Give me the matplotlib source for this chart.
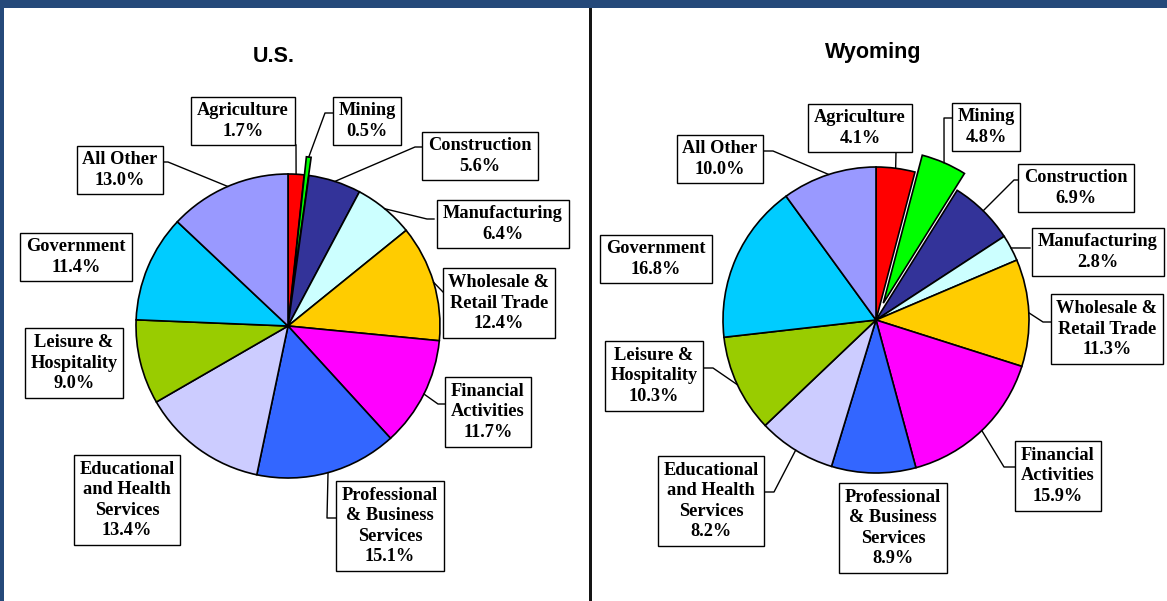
import numpy as np
import matplotlib.pyplot as plt
from matplotlib.patches import Rectangle

# --- Datos: participación del empleo por sector (%) ---
sectors = ['Agriculture', 'Mining', 'Construction', 'Manufacturing',
           'Wholesale &\nRetail Trade', 'Financial\nActivities',
           'Professional\n& Business\nServices', 'Educational\nand Health\nServices',
           'Leisure &\nHospitality', 'Government', 'All Other']
us_share = [1.7, 0.5, 5.6, 6.4, 12.4, 11.7, 15.1, 13.4, 9.0, 11.4, 13.0]
wy_share = [4.1, 4.8, 6.9, 2.8, 11.3, 15.9, 8.9, 8.2, 10.3, 16.8, 10.0]
colors = ['#FF0000', '#00FF00', '#333399', '#CCFFFF', '#FFCC00', '#FF00FF',
          '#3366FF', '#CCCCFF', '#99CC00', '#00CCFF', '#9999FF']
explode_frac = [0, 0.12, 0, 0, 0, 0, 0, 0, 0, 0, 0]  # fracción del radio

W, H = 1167, 601
BLUE = '#25497A'

# --- Layout en pixeles (y hacia abajo) ---
us_layout = dict(
    title='U.S.', title_xy=(274, 62), center=(288, 326), radius=152,
    labels=[(243, 121), (367, 121), (480, 156), (503, 224), (499, 303), (488, 412),
            (390, 526), (127, 500), (74, 363), (76, 257), (120, 170)],
    leaders={0: [(296, 145)], 1: [(325, 113), (333, 113)], 2: [(415, 147), (423, 147)],
             3: [(427, 219), (434, 219)], 4: [(443, 292)], 5: [(438, 404), (445, 404)],
             6: [(327, 518), (336, 518)], 10: [(168, 162), (163, 162)]},
)
wy_layout = dict(
    title='Wyoming', title_xy=(873, 58), center=(876, 320), radius=153,
    labels=[(860, 128), (986, 127), (1076, 188), (1098, 252), (1107, 329), (1058, 476),
            (893, 528), (711, 501), (654, 376), (656, 259), (720, 159)],
    leaders={0: [(896, 152)], 1: [(944, 118), (952, 118)], 2: [(1014, 180), (1022, 180)],
             3: [(1030, 248)], 4: [(1043, 322), (1051, 322)], 5: [(1004, 467), (1015, 467)],
             7: [(774, 492), (765, 492)], 8: [(713, 368), (704, 368)],
             10: [(773, 151), (764, 151)]},
)


def draw_pie(ax, values, layout):
    cx, cy = layout['center']
    r = layout['radius']
    # explode de matplotlib va en unidades de datos, no en fracción del radio
    wedges, _ = ax.pie(values, colors=colors, explode=[e * r for e in explode_frac],
                       startangle=90, counterclock=False, radius=r,
                       center=(cx, H - cy), frame=True,
                       wedgeprops=dict(edgecolor='black', linewidth=1.2))

    tx, ty = layout['title_xy']
    ax.text(tx, H - ty, layout['title'], ha='center', va='baseline',
            fontsize=15.5, fontweight='bold', family='Liberation Sans')

    for i, (name, val) in enumerate(zip(sectors, values)):
        lx, ly = layout['labels'][i]
        ax.text(lx, H - ly, f'{name}\n{val:.1f}%', ha='center', va='center',
                fontsize=13.2, fontweight='bold', family='Liberation Serif',
                linespacing=1.25, zorder=5,
                bbox=dict(boxstyle='square,pad=0.32', fc='white', ec='black', lw=1.0))

        if i in layout['leaders']:
            w = wedges[i]
            mid = np.deg2rad((w.theta1 + w.theta2) / 2)
            px = w.center[0] + w.r * np.cos(mid)
            py = w.center[1] + w.r * np.sin(mid)
            pts = [(px, py)] + [(x, H - y) for x, y in layout['leaders'][i]]
            xs, ys = zip(*pts)
            ax.plot(xs, ys, color='black', lw=1.0, zorder=4)


fig = plt.figure(figsize=(W / 100, H / 100), dpi=100, facecolor=BLUE)
ax = fig.add_axes([0, 0, 1, 1])

# paneles blancos y divisor
ax.add_patch(Rectangle((4, 0), 585, H - 8, fc='white', ec='none', zorder=0))
ax.add_patch(Rectangle((589, 0), 3, H - 8, fc='#151515', ec='none', zorder=0))
ax.add_patch(Rectangle((592, 0), W - 592, H - 8, fc='white', ec='none', zorder=0))

draw_pie(ax, us_share, us_layout)
draw_pie(ax, wy_share, wy_layout)

ax.set_xlim(0, W)
ax.set_ylim(0, H)
ax.set_aspect('auto')
ax.axis('off')

fig.savefig('out.png', dpi=100, facecolor=BLUE)
